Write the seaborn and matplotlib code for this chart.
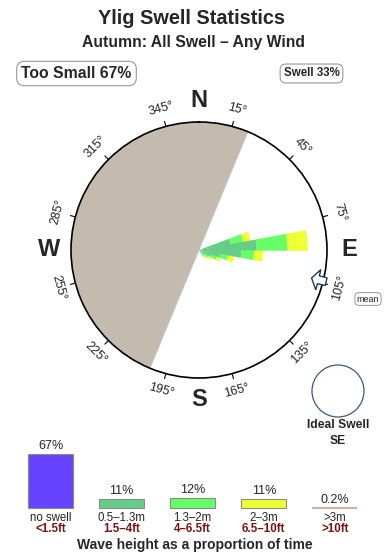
import numpy as np
import matplotlib
matplotlib.use("Agg")
import matplotlib.pyplot as plt
from matplotlib.patches import Polygon, Circle
import seaborn as sns

# ---------------- data ----------------
title = "Ylig Swell Statistics"
subtitle = "Autumn: All Swell \u2013 Any Wind"
too_small_label = "Too Small 67%"
swell_label = "Swell 33%"

# rose: direction bins (deg, centre) and cumulative radius (fraction of circle radius)
rose_dirs = [75, 85, 95, 105, 115, 125, 135, 145]
rose_small = [0.25, 0.45, 0.33, 0.17, 0.10, 0.06, 0.04, 0.03]   # 0.5-1.3m
rose_mid = [0.35, 0.69, 0.43, 0.23, 0.15, 0.09, 0.07, 0.05]     # 1.3-2m
rose_big = [0.41, 0.85, 0.50, 0.28, 0.18, 0.12, 0.09, 0.07]     # 2-3m

too_small_center = 292.5   # bearing of the 'too small' wedge centre
too_small_width = 180.0
mean_dir = 104.0

deg_labels = [15, 45, 75, 105, 135, 165, 195, 225, 255, 285, 315, 345]
compass = ["N", "E", "S", "W"]
compass_dirs = [0, 90, 180, 270]

size_cats = ["no swell", "0.5\u20131.3m", "1.3\u20132m", "2\u20133m", ">3m"]
size_ft = ["<1.5ft", "1.5\u20134ft", "4\u20136.5ft", "6.5\u201310ft", ">10ft"]
size_pct = [67, 11, 12, 11, 0.2]
size_pct_labels = ["67%", "11%", "12%", "11%", "0.2%"]
size_colors = ["#6644FF", "#66CC88", "#66FF66", "#EEFF33", "#C8B4AA"]

ideal_label = "Ideal Swell"
ideal_dir = "SE"

# ---------------- styling ----------------
sns.set_theme(style="white")
plt.rcParams["font.family"] = ["Liberation Sans", "DejaVu Sans"]

W, H = 390, 560
fig = plt.figure(figsize=(W / 100, H / 100), dpi=100)
fig.patch.set_facecolor("white")

CX, CY, R = 199, 250, 128

# ---------------- rose (polar) ----------------
axp = fig.add_axes([(CX - R) / W, (H - CY - R) / H, 2 * R / W, 2 * R / H], projection="polar")
axp.set_theta_zero_location("N")
axp.set_theta_direction(-1)
axp.set_ylim(0, 1)
axp.grid(False)
axp.set_xticks([])
axp.set_yticks([])
axp.set_facecolor("white")
axp.spines["polar"].set_linewidth(1.2)
axp.spines["polar"].set_color("black")

axp.bar(np.deg2rad(too_small_center), 1.0, width=np.deg2rad(too_small_width),
        color="#C5BAAE", edgecolor="#B8CCDA", linewidth=0.6, zorder=1)

th = np.deg2rad(rose_dirs)
wd = np.deg2rad(11)
s = np.array(rose_small)
m = np.array(rose_mid)
b = np.array(rose_big)
axp.bar(th, b - m, width=wd, bottom=m, color=size_colors[3], linewidth=0, zorder=2)
axp.bar(th, m - s, width=wd, bottom=s, color=size_colors[2], linewidth=0, zorder=2)
axp.bar(th, s, width=wd, bottom=0, color=size_colors[1], linewidth=0, zorder=2)

for d in deg_labels:
    t = np.deg2rad(d)
    axp.plot([t, t], [1.0, 1.04], color="black", lw=0.8, clip_on=False, zorder=3)
    rot = -d
    while rot <= -90:
        rot += 180
    while rot > 90:
        rot -= 180
    axp.text(t, 1.14, f"{d}\u00b0", rotation=rot, rotation_mode="anchor",
             ha="center", va="center", fontsize=9, clip_on=False)

for lab, d in zip(compass, compass_dirs):
    axp.text(np.deg2rad(d), 1.17, lab, ha="center", va="center", fontsize=17,
             fontweight="bold", clip_on=False)

# ---------------- bottom bar chart ----------------
BX0, BSP, BASE, PXPER = 15, 71.1, 508, 54 / 67
axb = fig.add_axes([BX0 / W, (H - BASE) / H, 5 * BSP / W, 67 * PXPER / H])
sns.barplot(x=size_cats, y=size_pct, hue=size_cats, palette=size_colors, legend=False,
            width=0.633, edgecolor="#8A8A8A", linewidth=0.8, ax=axb, saturation=1)
pats = axb.patches
pats[-1].set_edgecolor(size_colors[-1])
pats[-1].set_linewidth(1.6)
for p in pats:
    p.set_clip_on(False)
axb.set_xlim(-0.5, 4.5)
axb.set_ylim(0, 67)
axb.axis("off")

for i, (pct, pl, cat, ft) in enumerate(zip(size_pct, size_pct_labels, size_cats, size_ft)):
    axb.annotate(pl, (i, pct), xytext=(0, 8), textcoords="offset pixels",
                 ha="center", va="center", fontsize=9)
    axb.annotate(cat, (i, 0), xytext=(0, -10), textcoords="offset pixels",
                 ha="center", va="center", fontsize=8.3)
    axb.annotate(ft, (i, 0), xytext=(0, -21.5), textcoords="offset pixels",
                 ha="center", va="center", fontsize=8.3, color="#801010", fontweight="bold")

# ---------------- overlay (pixel coordinates) ----------------
ax = fig.add_axes([0, 0, 1, 1], facecolor="none")
ax.set_xlim(0, W)
ax.set_ylim(H, 0)
ax.axis("off")

ax.text(192, 19, title, ha="center", va="center", fontsize=14.3, fontweight="bold")
ax.text(193, 42, subtitle, ha="center", va="center", fontsize=11.3, fontweight="bold")

box = dict(boxstyle="round,pad=0.3,rounding_size=0.5", fc="white", ec="#999999", lw=0.8)
ax.text(76.5, 73.5, too_small_label, ha="center", va="center", fontsize=11.3,
        fontweight="bold", bbox=box)
ax.text(311.5, 73.5, swell_label, ha="center", va="center", fontsize=8.3,
        fontweight="bold", bbox=box)

# mean arrow
bb = np.deg2rad(mean_dir)
u = np.array([np.sin(bb), -np.cos(bb)])
v = np.array([np.cos(bb), np.sin(bb)])
shape = [(116, 0), (123, 10.5), (123, 4), (131, 4), (131, -4), (123, -4), (123, -10.5)]
pts = [np.array([CX, CY]) + d * u + sl * v for d, sl in shape]
ax.add_patch(Polygon(pts, closed=True, fc="white", ec="#1F3A5A", lw=1.0, zorder=5))
ax.text(368, 299, "mean", ha="center", va="center", fontsize=6.5,
        bbox=dict(boxstyle="round,pad=0.2,rounding_size=0.4", fc="white", ec="#888888", lw=0.6))

# ideal swell
ax.add_patch(Circle((338, 391), 26, fc="white", ec="#3A5A7A", lw=0.9))
ax.text(338, 425, ideal_label, ha="center", va="center", fontsize=8.7, fontweight="bold")
ax.text(338, 441, ideal_dir, ha="center", va="center", fontsize=8.7, fontweight="bold")

ax.text(195, 545, "Wave height as a proportion of time", ha="center", va="center",
        fontsize=10, fontweight="bold")

fig.savefig("out.png", dpi=100)
